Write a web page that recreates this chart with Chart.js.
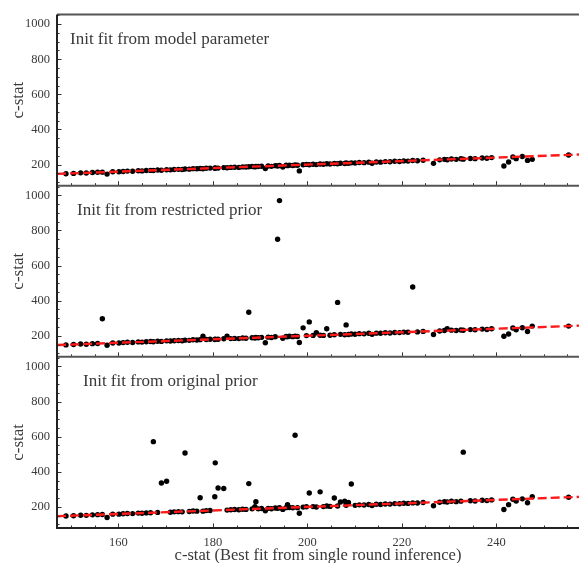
<!DOCTYPE html>
<html>
<head>
<meta charset="utf-8">
<script src="https://cdn.jsdelivr.net/npm/chart.js@4.4.0/dist/chart.umd.min.js"></script>
<style>
  html, body { margin: 0; padding: 0; background: #fff; overflow: hidden; }
  #wrap { width: 579px; height: 563px; }
</style>
</head>
<body>
<div id="wrap"><canvas id="cstatChart" width="579" height="563"></canvas></div>
<script>
// c-stat from the single round fit (shared x for all three panels)
const xBest = [
  148.9, 150.5, 152.0, 153.2, 154.5, 155.6, 156.6, 157.6, 158.8, 160.1,
  161.0, 161.9, 163.0, 164.2, 165.0, 165.9, 166.8, 167.4, 168.3, 169.1,
  170.2, 171.0, 171.8, 172.7, 173.5, 174.1, 175.0, 175.8, 176.6, 177.3,
  177.9, 178.6, 179.4, 180.4, 180.5, 181.1, 182.3, 183.0, 183.8, 184.6,
  185.5, 186.3, 187.0, 187.6, 188.3, 188.9, 189.1, 189.6, 190.3, 191.1,
  191.7, 192.4, 193.2, 193.7, 194.1, 194.8, 195.5, 195.8, 196.2, 196.9,
  197.4, 197.9, 198.3, 199.1, 199.8, 200.4, 201.2, 201.9, 202.7, 203.4,
  204.1, 204.8, 205.7, 206.4, 207.0, 207.9, 208.2, 208.7, 209.3, 210.1,
  211.0, 212.0, 213.0, 213.7, 214.6, 215.5, 216.5, 217.5, 218.5, 219.5,
  220.4, 221.3, 222.3, 223.3, 224.5, 226.7, 228.0, 229.0, 229.6, 230.5,
  231.5, 232.5, 233.0, 234.5, 235.5, 237.0, 238.0, 239.0, 241.6, 242.6,
  243.5, 244.2, 245.5, 246.6, 247.6, 255.3
];

// c-stat when initialised from the model parameter
const yModel = [
  148, 150, 153, 152, 155, 156, 157, 146, 159, 159,
  161, 163, 162, 165, 164, 166, 167, 166, 169, 168,
  171, 170, 172, 173, 172, 175, 174, 177, 176, 178,
  176, 179, 180, 179, 181, 180, 183, 182, 184, 185,
  184, 187, 186, 188, 189, 187, 190, 189, 191, 178,
  192, 190, 194, 192, 195, 186, 196, 194, 197, 195,
  198, 196, 164, 199, 201, 199, 202, 200, 203, 202,
  205, 203, 206, 205, 208, 206, 209, 207, 210, 209,
  212, 211, 214, 208, 215, 214, 217, 216, 219, 218,
  221, 220, 223, 222, 225, 207, 227, 230, 228, 232,
  230, 233, 231, 235, 234, 238, 236, 240, 192, 215,
  244, 234, 246, 224, 230, 255
];

// c-stat when initialised from the restricted prior
const yRestricted = [
  148, 150, 153, 152, 155, 156, 297, 146, 159, 159,
  161, 163, 162, 165, 164, 166, 167, 166, 169, 168,
  171, 170, 172, 173, 172, 175, 174, 177, 176, 178,
  197, 179, 180, 179, 181, 180, 183, 197, 184, 185,
  184, 187, 186, 334, 189, 187, 190, 189, 191, 160,
  192, 190, 194, 750, 970, 186, 196, 194, 197, 195,
  198, 196, 162, 245, 201, 279, 202, 217, 203, 202,
  240, 203, 206, 390, 208, 206, 262, 207, 210, 209,
  212, 211, 214, 208, 215, 214, 217, 216, 219, 218,
  221, 220, 478, 222, 225, 207, 227, 230, 240, 232,
  230, 233, 231, 235, 234, 238, 236, 240, 197, 210,
  244, 234, 246, 224, 255, 255
];

// c-stat when initialised from the original prior
const yOriginal = [
  148, 150, 153, 152, 155, 156, 157, 140, 159, 159,
  161, 163, 162, 165, 164, 166, 167, 572, 169, 336,
  346, 170, 172, 173, 172, 507, 174, 177, 176, 252,
  176, 179, 180, 258, 451, 308, 305, 182, 184, 185,
  184, 187, 186, 333, 189, 202, 230, 189, 191, 178,
  192, 190, 194, 192, 195, 186, 196, 213, 197, 195,
  608, 196, 164, 199, 201, 279, 202, 200, 286, 202,
  205, 203, 251, 205, 228, 232, 209, 225, 331, 209,
  212, 211, 214, 208, 215, 214, 217, 216, 219, 218,
  221, 220, 223, 222, 225, 207, 227, 230, 228, 232,
  230, 233, 512, 235, 234, 238, 236, 240, 185, 213,
  244, 234, 246, 224, 258, 255
];

// one-to-one reference line
const fitX = [147, 258];
const fitY = [147, 258];

const panelLabels = ['Init fit from model parameter', 'Init fit from restricted prior', 'Init fit from original prior'];
const xTicks = [160, 180, 200, 220, 240];
const yTicks = [200, 400, 600, 800, 1000];

const SERIF = '"Liberation Serif", "Times New Roman", serif';
const TEXT = '#3a3a3a';

// panel order top -> bottom; axes are declared bottom first (Chart.js stacks later ones on top)
const panels = [
  { id: 'yModel', values: yModel, dx: 13 },
  { id: 'yRestricted', values: yRestricted, dx: 20 },
  { id: 'yOriginal', values: yOriginal, dx: 26 }
];

function yAxis() {
  return {
    type: 'linear',
    position: 'left',
    stack: 'panels',
    stackWeight: 1,
    min: 80,
    max: 1055,
    afterBuildTicks: s => { s.ticks = yTicks.map(v => ({ value: v })); },
    afterFit: s => { s.width = 57; },
    ticks: { font: { family: SERIF, size: 12.5 }, color: TEXT, padding: 7, autoSkip: false, callback: v => String(v) },
    grid: { display: false, drawTicks: false },
    border: { display: false },
    title: { display: true, text: 'c-stat', font: { family: SERIF, size: 17 }, color: TEXT, padding: { top: 8, bottom: 0 } }
  };
}

const datasets = [];
panels.forEach(p => {
  datasets.push({
    type: 'line',
    data: fitX.map((x, i) => ({ x: x, y: fitY[i] })),
    yAxisID: p.id,
    borderColor: '#ff1a1a',
    borderWidth: 2.4,
    borderDash: [9, 4],
    pointRadius: 0,
    fill: false,
    order: 0
  });
  datasets.push({
    type: 'scatter',
    data: xBest.map((x, i) => ({ x: x, y: p.values[i] })),
    yAxisID: p.id,
    backgroundColor: '#000',
    borderWidth: 0,
    pointRadius: 2.7,
    order: 1
  });
});

const panelFrame = {
  id: 'panelFrame',
  afterDatasetsDraw(chart) {
    const { ctx, chartArea, scales } = chart;
    const xs = scales.x;
    ctx.save();
    panels.forEach((p, i) => {
      const ys = scales[p.id];
      ctx.strokeStyle = '#333';
      ctx.lineWidth = 1;
      ctx.beginPath();
      for (let v = 100; v <= 1050; v += 50) {
        const py = Math.round(ys.getPixelForValue(v)) + 0.5;
        if (py < ys.top + 1 || py > ys.bottom - 1) continue;
        const len = v % 200 === 0 ? 4.5 : 2.5;
        ctx.moveTo(chartArea.left, py);
        ctx.lineTo(chartArea.left + len, py);
      }
      for (let v = 150; v <= 257; v += 5) {
        const px = Math.round(xs.getPixelForValue(v)) + 0.5;
        const len = v % 20 === 0 ? 4.5 : 2.5;
        ctx.moveTo(px, ys.bottom);
        ctx.lineTo(px, ys.bottom - len);
      }
      ctx.stroke();
      // panel frame
      ctx.strokeStyle = '#555';
      ctx.lineWidth = 2;
      ctx.beginPath();
      ctx.moveTo(chartArea.left, ys.top);
      ctx.lineTo(chartArea.right, ys.top);
      ctx.stroke();
      // label
      ctx.fillStyle = TEXT;
      ctx.font = '17px ' + SERIF;
      ctx.textBaseline = 'middle';
      ctx.textAlign = 'left';
      ctx.fillText(panelLabels[i], chartArea.left + p.dx, ys.top + 25);
    });
    ctx.strokeStyle = '#222';
    ctx.lineWidth = 2;
    ctx.beginPath();
    ctx.moveTo(chartArea.left, chartArea.top);
    ctx.lineTo(chartArea.left, chartArea.bottom);
    ctx.lineTo(chartArea.right, chartArea.bottom);
    ctx.stroke();
    ctx.restore();
  }
};

new Chart(document.getElementById('cstatChart').getContext('2d'), {
  type: 'scatter',
  data: { datasets: datasets },
  options: {
    responsive: false,
    animation: false,
    events: [],
    layout: { autoPadding: false, padding: { top: 8, right: 0, bottom: 0, left: 0 } },
    plugins: { legend: { display: false }, tooltip: { enabled: false } },
    scales: {
      x: {
        type: 'linear',
        position: 'bottom',
        min: 147,
        max: 257.5,
        afterBuildTicks: s => { s.ticks = xTicks.map(v => ({ value: v })); },
        afterFit: s => { s.height = 35; },
        ticks: { font: { family: SERIF, size: 12.5 }, color: TEXT, padding: 7, autoSkip: false, maxRotation: 0 },
        grid: { display: false, drawTicks: false },
        border: { display: false },
        title: { display: true, text: 'c-stat (Best fit from single round inference)', font: { family: SERIF, size: 16.5, lineHeight: 1 }, color: TEXT, padding: { top: 0, bottom: -1 } }
      },
      yOriginal: yAxis(),
      yRestricted: yAxis(),
      yModel: yAxis()
    }
  },
  plugins: [panelFrame]
});
</script>
</body>
</html>
